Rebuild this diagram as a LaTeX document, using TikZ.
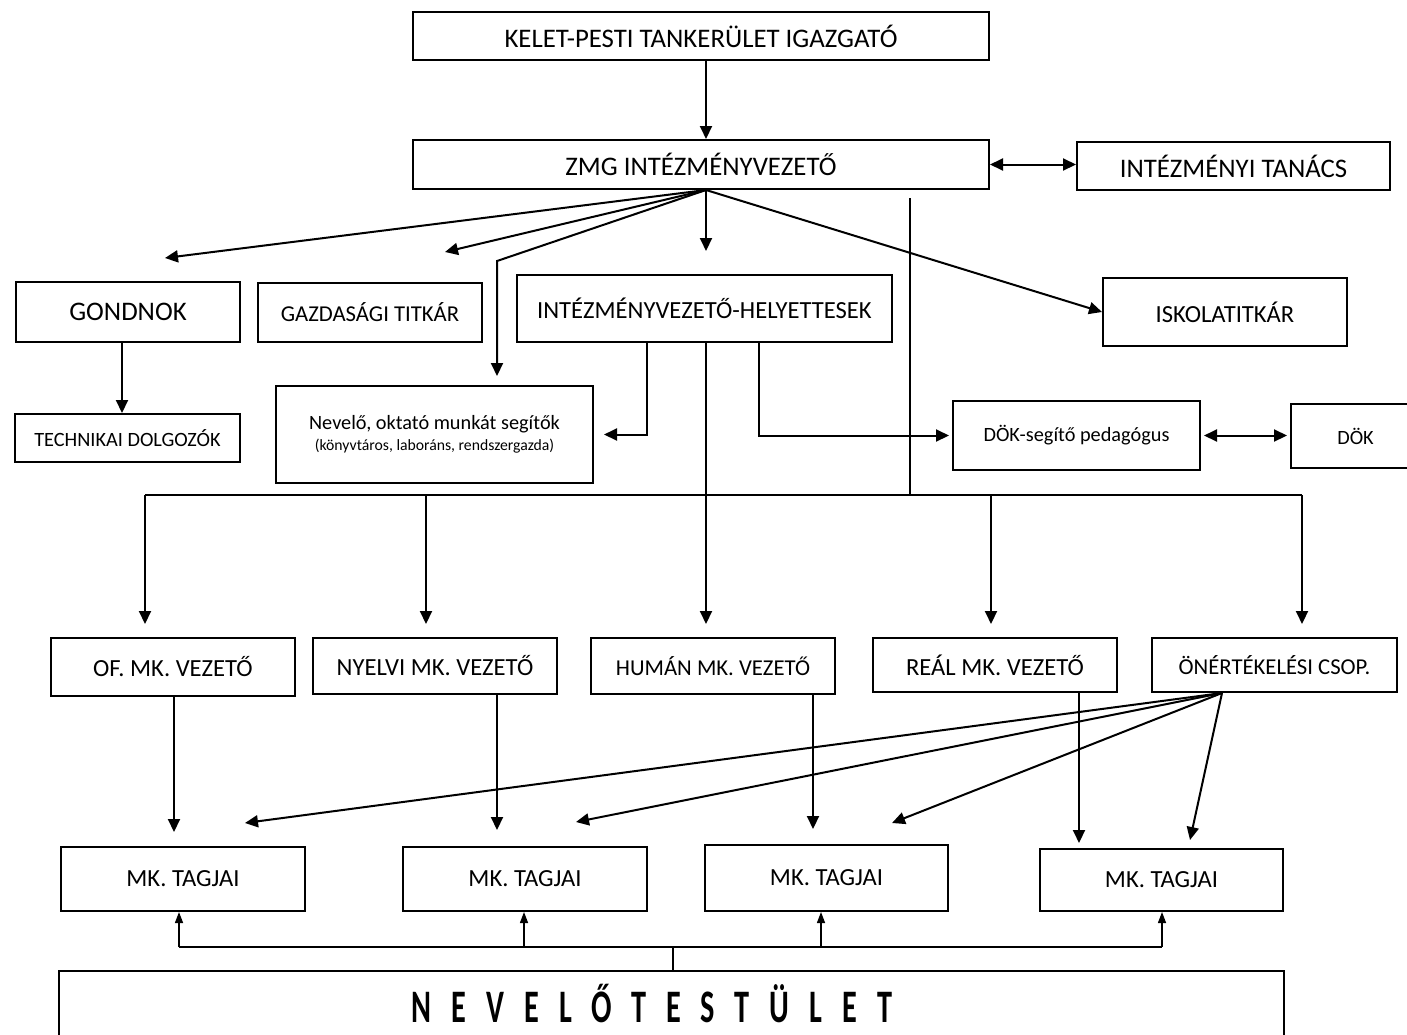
\documentclass[tikz,border=0pt]{standalone}
\usepackage{fontspec}
\setmainfont{Carlito}
\newfontfamily\spacedfont{Carlito}[FakeStretch=0.65, LetterSpace=43]
\usetikzlibrary{arrows.meta,calc}

\begin{document}
\begin{tikzpicture}[
    x=1pt, y=-1pt,
    box/.style={draw, line width=2pt, inner sep=0pt, align=center},
    wire/.style={line width=2pt},
    arr/.style={-{Triangle[length=13pt,width=12pt]}, line width=2pt},
    biarr/.style={{Triangle[length=13pt,width=12pt]}-{Triangle[length=13pt,width=12pt]}, line width=2pt},
    uparr/.style={-{Triangle[length=11pt,width=8pt]}, line width=1.4pt},
    fsA/.style={font=\fontsize{26.8}{32}\selectfont},
    fsB/.style={font=\fontsize{24.6}{30}\selectfont},
    fsC/.style={font=\fontsize{22.7}{28}\selectfont},
    fsD/.style={font=\fontsize{20.3}{24}\selectfont},
]
\useasboundingbox (0,0) rectangle (1407,1034);
\clip (0,0) rectangle (1407,1034);

% Top
\node[box, fsA, minimum width=576pt, minimum height=48pt] (top) at (701,36) {KELET-PESTI TANKERÜLET IGAZGATÓ};
\node[box, fsA, minimum width=576pt, minimum height=49pt] (zmg) at (701,164.5) {ZMG INTÉZMÉNYVEZETŐ};
\node[box, fsA, minimum width=313pt, minimum height=48pt] (tanacs) at (1233.5,166) {INTÉZMÉNYI TANÁCS};

% Second row
\node[box, fsA, minimum width=224pt, minimum height=60pt] (gondnok) at (128,312) {GONDNOK};
\node[box, fsC, minimum width=224pt, minimum height=59pt] (gazd) at (370,312.5) {GAZDASÁGI TITKÁR};
\node[box, fsB, minimum width=375pt, minimum height=67pt] (helyettes) at (704.5,308.5) {INTÉZMÉNYVEZETŐ-HELYETTESEK};
\node[box, fsB, minimum width=244pt, minimum height=68pt] (iskola) at (1225,312) {ISKOLATITKÁR};

% Third row
\node[box, fsD, minimum width=225pt, minimum height=48pt] (techn) at (127.5,438) {TECHNIKAI DOLGOZÓK};
\node[box, font=\fontsize{15.7}{21}\selectfont, minimum width=317pt, minimum height=97pt] (segito) at (434.5,434.5)
    {{\fontsize{20.3}{21}\selectfont Nevelő, oktató munkát segítők}\\
     (könyvtáros, laboráns, rendszergazda)};
\node[box, fsD, minimum width=247pt, minimum height=69pt] (doksegito) at (1076.5,435.5) {DÖK-segítő pedagógus};
\node[box, fsD, minimum width=129pt, minimum height=64pt] (dok) at (1355.5,436) {DÖK};

% Munkakozossegek
\node[box, fsB, minimum width=244pt, minimum height=58pt] (of) at (173,667) {OF. MK. VEZETŐ};
\node[box, fsB, minimum width=244pt, minimum height=56pt] (nyelvi) at (435,666) {NYELVI MK. VEZETŐ};
\node[box, fsC, minimum width=244pt, minimum height=56pt] (human) at (713,666) {HUMÁN MK. VEZETŐ};
\node[box, fsB, minimum width=244pt, minimum height=54pt] (real) at (995,665) {REÁL MK. VEZETŐ};
\node[box, fsC, minimum width=245pt, minimum height=54pt] (onert) at (1274.5,665) {ÖNÉRTÉKELÉSI CSOP.};

% Tagok
\node[box, fsB, minimum width=244pt, minimum height=64pt] (tag1) at (183,879) {MK. TAGJAI};
\node[box, fsB, minimum width=244pt, minimum height=64pt] (tag2) at (525,879) {MK. TAGJAI};
\node[box, fsB, minimum width=243pt, minimum height=66pt] (tag3) at (826.5,878) {MK. TAGJAI};
\node[box, fsB, minimum width=243pt, minimum height=62pt] (tag4) at (1161.5,880) {MK. TAGJAI};

% Nevelotestulet
\node[box, minimum width=1225pt, minimum height=72pt] (testulet) at (671.5,1007) {};
\node[font=\fontsize{46.6}{50}\selectfont\spacedfont\bfseries, inner sep=0pt] (testuletText) at (652,1003) {NEVELŐTESTÜLET};

% Coordinates
\coordinate (fan) at (706,190);
\coordinate (toGondnok) at (165,258);
\coordinate (toGazd) at (445,252);
\coordinate (bend) at (497,261);
\coordinate (hl) at (647,342);
\coordinate (hr) at (759,342);
\coordinate (side) at (910,198);
\coordinate (busL) at (145,495);
\coordinate (busR) at (1302,495);
\coordinate (eval) at (1222,693);
\coordinate (stem) at (673,947);

% Upper connectors
\draw[arr] (top.south -| fan) -- (zmg.north -| fan);
\draw[biarr] (zmg.east) -- (zmg.east -| tanacs.west);
\draw[arr] (fan) -- (toGondnok);
\draw[arr] (fan) -- (toGazd);
\draw[arr, shorten >=9pt] (fan) -- (bend) -- (bend |- segito.north);
\draw[arr, shorten >=23pt] (fan) -- (fan |- helyettes.north);
\draw[arr] (fan) -- (iskola.west);
\draw[arr] ([xshift=-6pt]gondnok.south) -- ([xshift=-6pt]gondnok.south |- techn.north);
\draw[arr, shorten >=10pt] (hl) |- (segito.east);
\draw[arr, shorten >=3pt] (hr) |- (doksegito.west);
\draw[biarr, shorten <=3pt, shorten >=3pt] (doksegito.east) -- (doksegito.east -| dok.west);

% Bus to munkakozossegek
\draw[wire] (side) -- (side |- busL);
\draw[wire] (busL) -- (busR);
\foreach \x/\n in {145/of,426/nyelvi,991/real,1302/onert}
    \draw[arr, shorten >=13pt] (\x,495) -- (\x,495 |- \n.north);
\draw[arr, shorten >=13pt] (helyettes.south -| fan) -- (human.north -| fan);

% Vezetok to tagok
\draw[arr, shorten >=14pt] ([xshift=1pt]of.south) -- ([xshift=1pt]of.south |- tag1.north);
\draw[arr, shorten >=16pt] ([xshift=62pt]nyelvi.south) -- ([xshift=62pt]nyelvi.south |- tag2.north);
\draw[arr, shorten >=15pt] ([xshift=100pt]human.south) -- ([xshift=100pt]human.south |- tag3.north);
\draw[arr, shorten >=5pt] ([xshift=84pt]real.south) -- ([xshift=84pt]real.south |- tag4.north);

% Onertekelesi csoport
\foreach \p in {(245,823),(576,822),(892,823),(1190,840)}
    \draw[arr] (eval) -- \p;

% Nevelotestulet to tagok
\draw[line width=1.4pt] (179,947) -- (1162,947);
\draw[line width=1.4pt] (stem) -- (stem |- testulet.north);
\foreach \x/\n in {179/tag1,524/tag2,821/tag3,1162/tag4}
    \draw[uparr] (\x,947) -- (\x,947 |- \n.south);

\end{tikzpicture}
\end{document}
